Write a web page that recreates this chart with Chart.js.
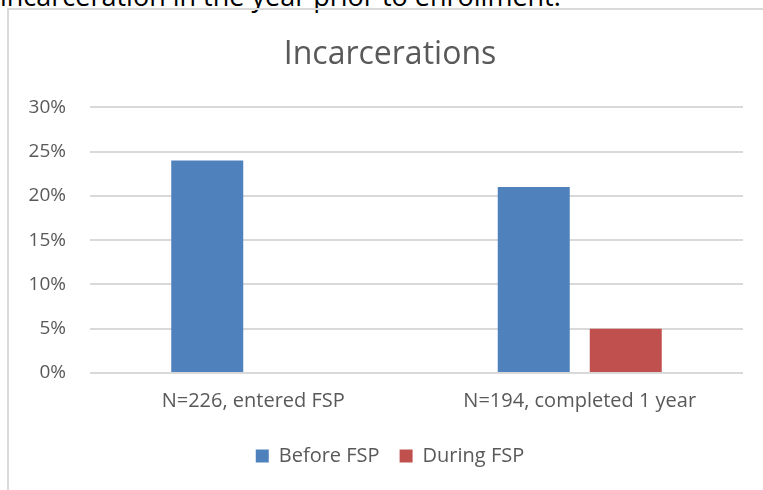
<!DOCTYPE html>
<html>
<head>
<meta charset="utf-8">
<script src="https://cdn.jsdelivr.net/npm/chart.js@4"></script>
<style>
  body { margin: 0; background: #fff; overflow: hidden; }
  #page { position: relative; width: 763px; height: 490px; overflow: hidden; }
  #caption { position: absolute; left: 0; top: -23px; font: 27px "Open Sans", sans-serif; color: #000; white-space: nowrap; }
  #frame { position: absolute; left: 7px; top: 8px; width: 800px; height: 500px; border: 2px solid #d9d9d9; box-sizing: border-box; }
  #wrap { position: absolute; left: 0; top: 0; width: 780px; height: 490px; }
</style>
</head>
<body>
<div id="page">
  <div id="caption">incarceration in the year prior to enrollment.</div>
  <div id="frame"></div>
  <div id="wrap"><canvas id="chart"></canvas></div>
</div>
<script>
// chart data
const categories = ["N=226, entered FSP", "N=194, completed 1 year"];
const beforeFSP = [24, 21];
const duringFSP = [null, 5];
const yTicks = [0, 5, 10, 15, 20, 25, 30];

const textColor = '#595959';
const fontFamily = '"Open Sans", sans-serif';

new Chart(document.getElementById('chart'), {
    type: 'bar',
    data: {
        labels: categories,
        datasets: [
            {
                label: 'Before FSP',
                data: beforeFSP,
                backgroundColor: '#4f81bd',
                categoryPercentage: 0.5636,
                barPercentage: 0.7826
            },
            {
                label: 'During FSP',
                data: duringFSP,
                backgroundColor: '#c0504d',
                categoryPercentage: 0.5636,
                barPercentage: 0.7826
            }
        ]
    },
    options: {
        responsive: true,
        maintainAspectRatio: false,
        animation: false,
        layout: { padding: { left: 0, right: 0, top: 36, bottom: 14 } },
        scales: {
            y: {
                min: 0,
                max: 30,
                afterFit: scale => { scale.width = 90; },
                afterBuildTicks: scale => { scale.ticks = yTicks.map(v => ({ value: v })); },
                border: { display: false },
                grid: { color: '#d9d9d9', lineWidth: 2, drawTicks: false },
                ticks: {
                    padding: 24,
                    color: textColor,
                    font: { family: fontFamily, size: 19 },
                    callback: v => v + '%'
                }
            },
            // empty right axis, only reserves the space right of the plot
            spacer: {
                position: 'right',
                afterFit: scale => { scale.width = 37; },
                border: { display: false },
                grid: { display: false },
                ticks: { display: false }
            },
            x: {
                afterFit: scale => { scale.height = 53; },
                border: { display: false },
                grid: { display: false },
                ticks: {
                    padding: 8,
                    color: textColor,
                    font: { family: fontFamily, size: 20 }
                }
            }
        },
        plugins: {
            title: {
                display: true,
                text: 'Incarcerations',
                color: textColor,
                font: { family: fontFamily, size: 32, weight: 'normal' },
                padding: { top: 0, bottom: 33 }
            },
            legend: {
                position: 'bottom',
                labels: {
                    color: textColor,
                    font: { family: fontFamily, size: 20 },
                    boxWidth: 13,
                    boxHeight: 13,
                    padding: 20
                }
            },
            tooltip: { enabled: false }
        }
    }
});
</script>
</body>
</html>
